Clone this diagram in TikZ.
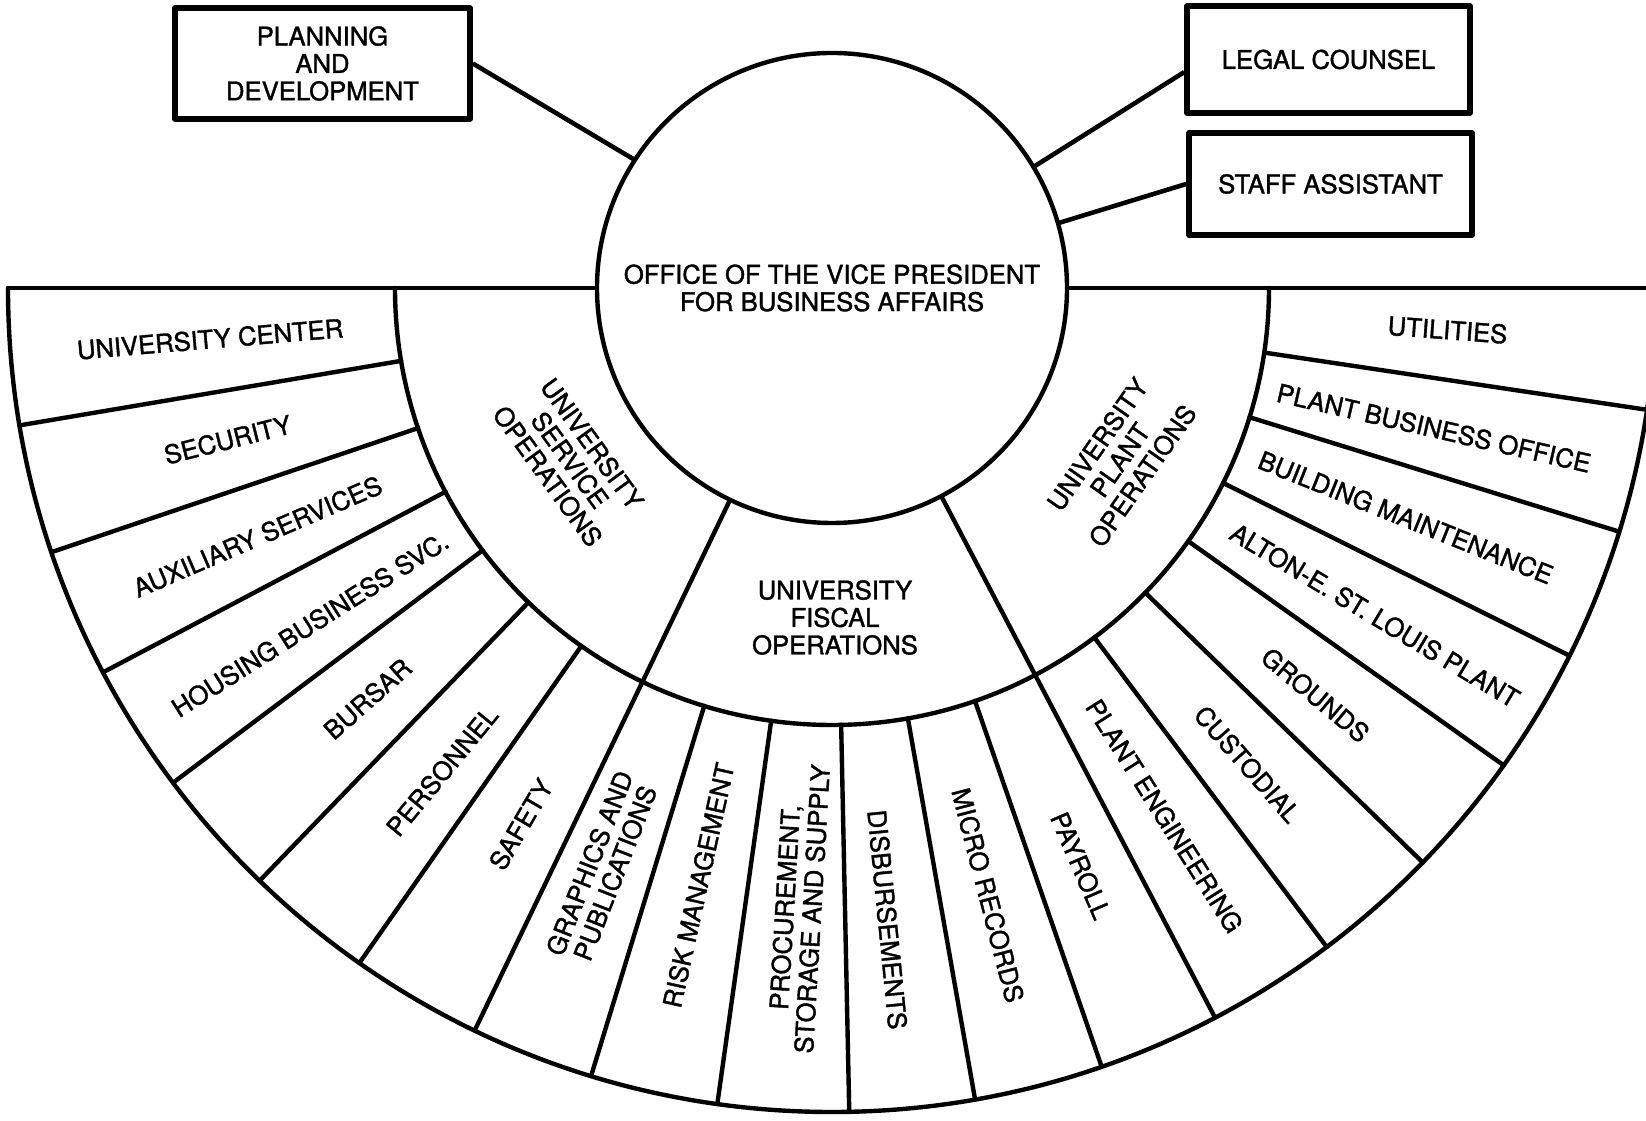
\documentclass[tikz,border=0pt]{standalone}
\usepackage{fontspec}
\setmainfont{TeX Gyre Heros}[FakeBold=1.4]
\tikzset{
  lbl/.style={font=\fontsize{7.3}{7.8}\selectfont, align=center, inner sep=0pt},
  fan/.style={line width=1.25pt, line cap=round},
  orgbox/.style={draw, line width=1.6pt, lbl, inner sep=0pt},
  conn/.style={line width=1.3pt},
}
\begin{document}
\begin{tikzpicture}[line join=round]
\useasboundingbox (-8.32,2.88) rectangle (8.14,-8.33);
\fill[white] (-8.32,2.88) rectangle (8.14,-8.33);
\begin{scope}
\clip (-8.32,2.88) rectangle (8.14,-8.33);
% fan outline
\draw[fan] (-8.24,0) -- (8.6,0);
\draw[fan] (-8.24,0) arc[start angle=180, end angle=360, radius=8.24];
\draw[fan] (-4.37,0) arc[start angle=180, end angle=360, radius=4.37];
% outer dividers
\foreach \a in {-170.4,-161.3,-152.2,-143.1,-134,-125,-115.7,-107,-98,-88.8,-80,-70.9,-62.3,-53.1,-44.2,-35.4,-26.5,-17.2,-8.5}
  \draw[fan] (\a:4.37) -- (\a:8.24);
% middle dividers
\foreach \a in {-115.7,-62.3}
  \draw[fan] (\a:2.35) -- (\a:4.37);
\end{scope}

% central office
\node[circle, draw, fill=white, line width=1.25pt, minimum size=4.7cm, outer sep=0pt, lbl] (vp) at (0,0)
  {OFFICE OF THE VICE PRESIDENT\\FOR BUSINESS AFFAIRS};

% staff boxes
\node[orgbox, minimum width=2.95cm, minimum height=1.11cm] (pd) at (-5.095,2.245) {PLANNING\\AND\\DEVELOPMENT};
\node[orgbox, minimum width=2.83cm, minimum height=1.07cm] (lc) at (4.965,2.285) {LEGAL COUNSEL};
\node[orgbox, minimum width=2.83cm, minimum height=1.02cm] (sa) at (4.985,1.04) {STAFF ASSISTANT};

\draw[conn] (pd.east) -- (vp.147.5);
\draw[conn] (lc.185) -- (vp.31.3);
\draw[conn] (sa.west) -- (vp.16.2);

% middle ring labels
\node[lbl, rotate=-54] (m1) at (-2.62,-1.72) {UNIVERSITY\\SERVICE\\OPERATIONS};
\node[lbl] (m2) at (0.03,-3.295) {UNIVERSITY\\FISCAL\\OPERATIONS};
\node[lbl, rotate=55] (m3) at (2.88,-1.72) {UNIVERSITY\\PLANT\\OPERATIONS};

% outer ring labels
\node[lbl, rotate=4.8]   (l1)  at (-175.3:6.24) {UNIVERSITY CENTER};
\node[lbl, rotate=14.15] (l2)  at (-165.9:6.23) {SECURITY};
\node[lbl, rotate=23.25] (l3)  at (-156.6:6.26) {AUXILIARY SERVICES};
\node[lbl, rotate=32.35] (l4)  at (-147.2:6.21) {HOUSING BUSINESS SVC.};
\node[lbl, rotate=41.45] (l5)  at (-138.5:6.20) {BURSAR};
\node[lbl, rotate=50.5]  (l6)  at (-128.9:6.21) {PERSONNEL};
\node[lbl, rotate=59.65] (l7)  at (-120.1:6.20) {SAFETY};
\node[lbl, rotate=68.65] (l8)  at (-111.6:6.24) {GRAPHICS AND\\PUBLICATIONS};
\node[lbl, rotate=77.5]  (l9)  at (-102.6:6.12) {RISK MANAGEMENT};
\node[lbl, rotate=86.6]  (l10) at (-93.1:6.21)  {PROCUREMENT,\\STORAGE AND SUPPLY};
\node[lbl, rotate=-84.4] (l11) at (-85:6.34)    {DISBURSEMENTS};
\node[lbl, rotate=-75.45](l12) at (-75.6:6.27)  {MICRO RECORDS};
\node[lbl, rotate=-66.6] (l13) at (-66.7:6.29)  {PAYROLL};
\node[lbl, rotate=-57.7] (l14) at (-57.8:6.24)  {PLANT ENGINEERING};
\node[lbl, rotate=-48.65](l15) at (-48.9:6.32)  {CUSTODIAL};
\node[lbl, rotate=-39.8] (l16) at (-40.1:6.32)  {GROUNDS};
\node[lbl, rotate=-30.95](l17) at (-31.1:6.34)  {ALTON-E. ST. LOUIS PLANT};
\node[lbl, rotate=-21.85](l18) at (-21.8:6.18)  {BUILDING MAINTENANCE};
\node[lbl, rotate=-12.85](l19) at (-13.1:6.18)  {PLANT BUSINESS OFFICE};
\node[lbl, rotate=-4.25] (l20) at (-3.9:6.17)   {UTILITIES};
\end{tikzpicture}
\end{document}
